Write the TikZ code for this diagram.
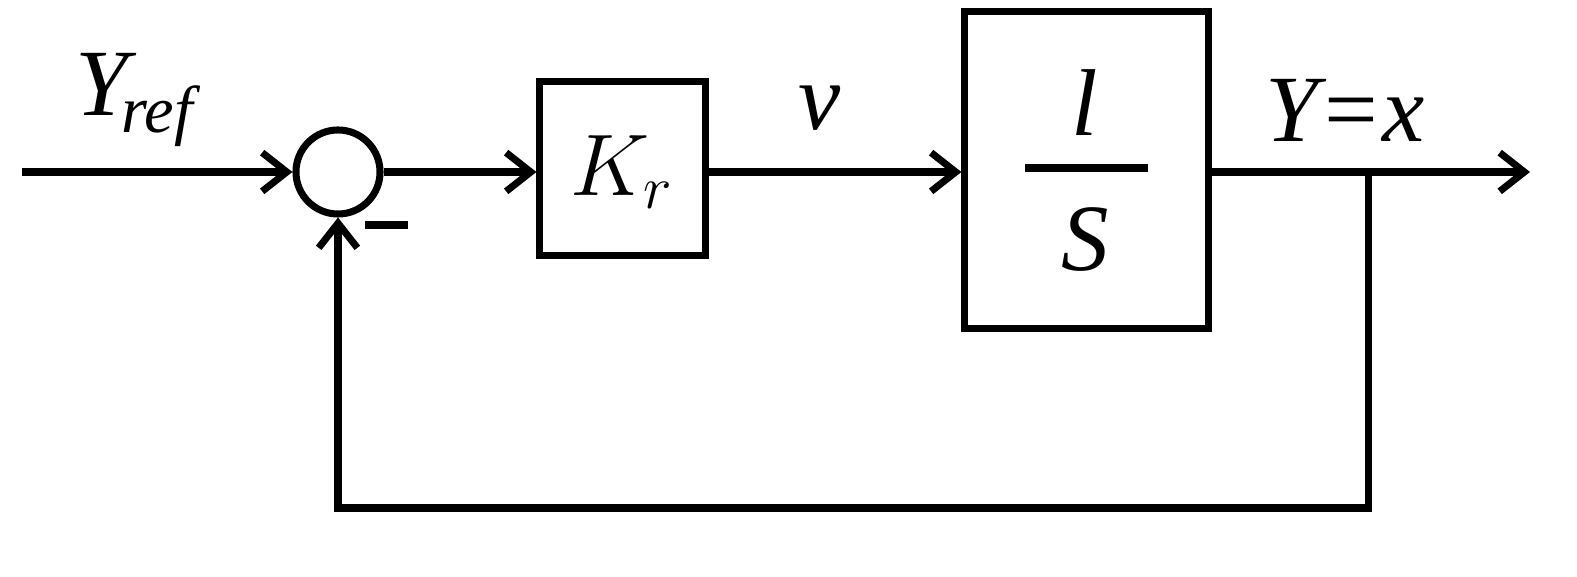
\documentclass[tikz,border=0pt]{standalone}
\usepackage{fontspec}
\setmainfont{Liberation Serif}
\usetikzlibrary{arrows.meta}
\begin{document}
\begin{tikzpicture}[x=0.01cm,y=-0.01cm,line width=2pt,
  ar/.style={-{Straight Barb[length=7pt,width=11pt,line width=2pt]}},
  blk/.style={draw,line width=2pt,inner sep=0pt},
  lbl/.style={font=\fontsize{27}{30}\selectfont\itshape,inner sep=0pt}]
\useasboundingbox (0,0) rectangle (1577,577);
\coordinate (in) at (22,172);
\node[draw,circle,minimum size=0.84cm,inner sep=0pt,line width=2pt] (sum) at (338,172) {};
\node[blk,minimum width=1.65cm,minimum height=1.73cm] (kr) at (622.5,168.5) {};
\node[lbl] at (622,172) {$K_r$};
\node[blk,minimum width=2.43cm,minimum height=3.16cm] (int) at (1086.5,170) {};
\draw (1025,168) -- (1148,168);
\node[lbl] at (1085,103) {l};
\node[lbl] at (1085,240) {S};
\coordinate (out) at (1530,172);
\coordinate (tap) at (1368,172);
\coordinate (c1) at (1368,508);
\coordinate (c2) at (338,508);
\draw[ar] (in) -- (sum.west);
\draw[ar] (sum.east) -- (kr.west |- sum.east);
\draw[ar] (kr.east |- sum.east) -- (int.west |- sum.east);
\draw[ar] (int.east |- tap) -- (out);
\draw[ar] (tap) -- (c1) -- (c2) -- (sum.south);
\draw (365,225) -- (408,225);
\node[lbl] at (135,100) {Y\textsubscript{\kern-2pt ref}};
\node[lbl] at (820,108) {v};
\node[lbl] at (1345,110) {Y=x};
\end{tikzpicture}
\end{document}
